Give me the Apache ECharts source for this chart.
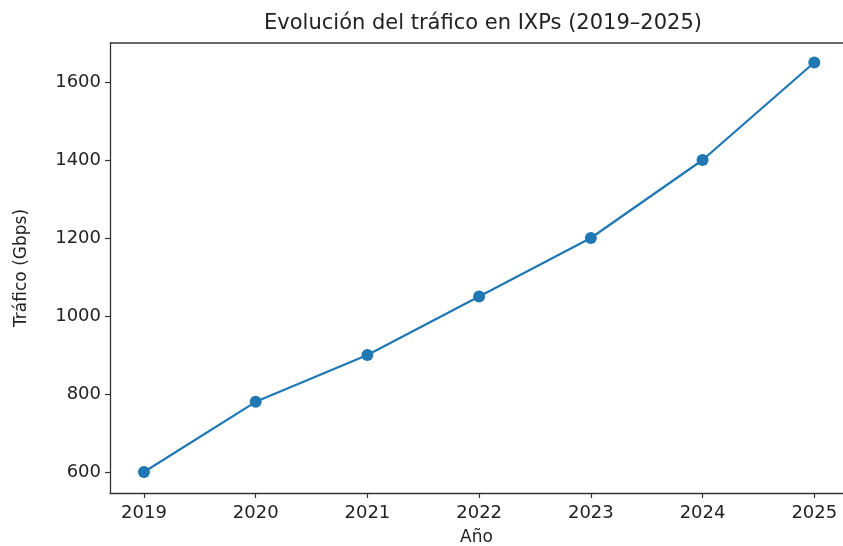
<!DOCTYPE html>
<html>
<head>
<meta charset="utf-8">
<script src="https://cdn.jsdelivr.net/npm/echarts@6/dist/echarts.min.js"></script>
<style>html,body{margin:0;padding:0;background:#fff}#c{width:843px;height:546px}</style>
</head>
<body>
<div id="c"></div>
<script>
const years = [2019, 2020, 2021, 2022, 2023, 2024, 2025];
const traffic = [600, 780, 900, 1050, 1200, 1400, 1650];
const xTicks = [2019, 2020, 2021, 2022, 2023, 2024, 2025];
const yTicks = [600, 800, 1000, 1200, 1400, 1600];
const titleText = 'Evolución del tráfico en IXPs (2019–2025)';
const xName = 'Año';
const yName = 'Tráfico (Gbps)';

const font = 'DejaVu Sans';
const chart = echarts.init(document.getElementById('c'), null, {renderer: 'canvas'});
chart.setOption({
  animation: false,
  backgroundColor: '#fff',
  title: {
    text: titleText, left: 478, top: 8, textAlign: 'center',
    textStyle: {fontFamily: font, fontSize: 21, fontWeight: 'normal', color: '#222'}
  },
  grid: {left: 110, right: 0, top: 43, bottom: 53, containLabel: false, outerBoundsMode: 'none'},
  xAxis: {
    type: 'value', min: 2018.696, max: 2025.257,
    name: xName, nameLocation: 'middle', nameGap: 36,
    nameTextStyle: {fontFamily: font, fontSize: 17, color: '#222'},
    axisLine: {show: true, onZero: false, lineStyle: {color: '#333', width: 1.3}},
    axisTick: {show: true, inside: false, length: 5, customValues: xTicks, lineStyle: {color: '#333', width: 1.2}},
    axisLabel: {customValues: xTicks, margin: 11, fontFamily: font, fontSize: 18, color: '#222', formatter: v => String(v)},
    splitLine: {show: false}
  },
  yAxis: {
    type: 'value', min: 546.2, max: 1700,
    name: yName, nameLocation: 'middle', nameGap: 80, nameRotate: 90,
    nameTextStyle: {fontFamily: font, fontSize: 17, color: '#222'},
    axisLine: {show: true, lineStyle: {color: '#333', width: 1.3}},
    axisTick: {show: true, inside: false, length: 5, customValues: yTicks, lineStyle: {color: '#333', width: 1.2}},
    axisLabel: {customValues: yTicks, margin: 9, fontFamily: font, fontSize: 18, color: '#222', formatter: v => String(v)},
    splitLine: {show: false}
  },
  series: [{
    type: 'line',
    data: years.map((y, i) => [y, traffic[i]]),
    symbol: 'circle', symbolSize: 12,
    lineStyle: {color: '#1f77b4', width: 2.2},
    itemStyle: {color: '#1f77b4'},
    clip: false
  }],
  graphic: [{
    type: 'line', shape: {x1: 110, y1: 43, x2: 843, y2: 43},
    style: {stroke: '#333', lineWidth: 1.3}
  }]
});
</script>
</body>
</html>
